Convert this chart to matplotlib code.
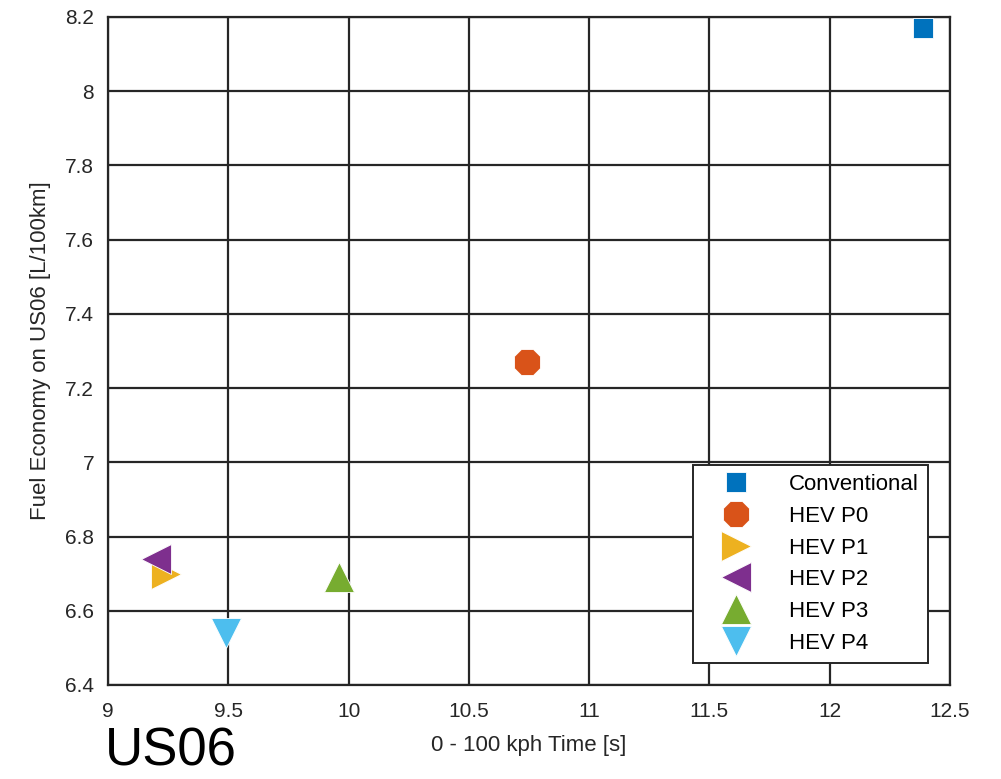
import matplotlib.pyplot as plt
from matplotlib import font_manager

# 0-100 kph time vs fuel economy on US06
names = ['Conventional', 'HEV P0', 'HEV P1', 'HEV P2', 'HEV P3', 'HEV P4']
accel_time = [12.39, 10.74, 9.24, 9.20, 9.96, 9.49]
fuel_econ = [8.17, 7.27, 6.70, 6.74, 6.69, 6.54]

markers = ['s', '8', '>', '<', '^', 'v']
sizes = [14, 21, 22, 22, 22, 22]
colors = ['#0072BD', '#D95319', '#EDB120', '#7E2F8E', '#77AC30', '#4DBEEE']

installed = {f.name for f in font_manager.fontManager.ttflist}
fam = 'Liberation Sans Narrow' if 'Liberation Sans Narrow' in installed else 'Liberation Sans'
plt.rcParams['font.family'] = [fam, 'DejaVu Sans']

fig = plt.figure(figsize=(10.01, 7.79), dpi=100)
ax = fig.add_axes([0.108, 0.1207, 0.841, 0.8575])

for n, x, y, m, s, c in zip(names, accel_time, fuel_econ, markers, sizes, colors):
    ax.plot(x, y, linestyle='none', marker=m, markersize=s, color=c,
            markeredgecolor='white', markeredgewidth=0.6, label=n, zorder=3)

ax.set_xlim(9, 12.5)
ax.set_ylim(6.4, 8.2)
ax.set_xticks([9, 9.5, 10, 10.5, 11, 11.5, 12, 12.5])
ax.set_xticklabels(['9', '9.5', '10', '10.5', '11', '11.5', '12', '12.5'])
ax.set_yticks([6.4, 6.6, 6.8, 7, 7.2, 7.4, 7.6, 7.8, 8, 8.2])
ax.set_yticklabels(['6.4', '6.6', '6.8', '7', '7.2', '7.4', '7.6', '7.8', '8', '8.2'])
ax.grid(True, color='#262626', linewidth=1.6)
ax.set_axisbelow(True)
for sp in ax.spines.values():
    sp.set_color('#262626')
    sp.set_linewidth(1.6)
ax.tick_params(direction='in', length=0, labelsize=15, colors='#262626', pad=12)
ax.tick_params(axis='y', pad=10)

ax.set_xlabel('0 - 100 kph Time [s]', fontsize=16, color='#262626', labelpad=10)
ax.set_ylabel('Fuel Economy on US06 [L/100km]', fontsize=16, color='#262626', labelpad=10)

leg = ax.legend(loc='lower right', bbox_to_anchor=(0.974, 0.033), fontsize=16,
                frameon=True, fancybox=False, edgecolor='#262626', framealpha=1,
                handletextpad=0.9, labelspacing=0.48, borderpad=0.42,
                handlelength=3.0, borderaxespad=0)
leg.get_frame().set_linewidth(1.4)

fig.text(0.105, 0.003, 'US06', fontsize=38, color='black', ha='left', va='bottom')

fig.savefig('out.png', dpi=100)
